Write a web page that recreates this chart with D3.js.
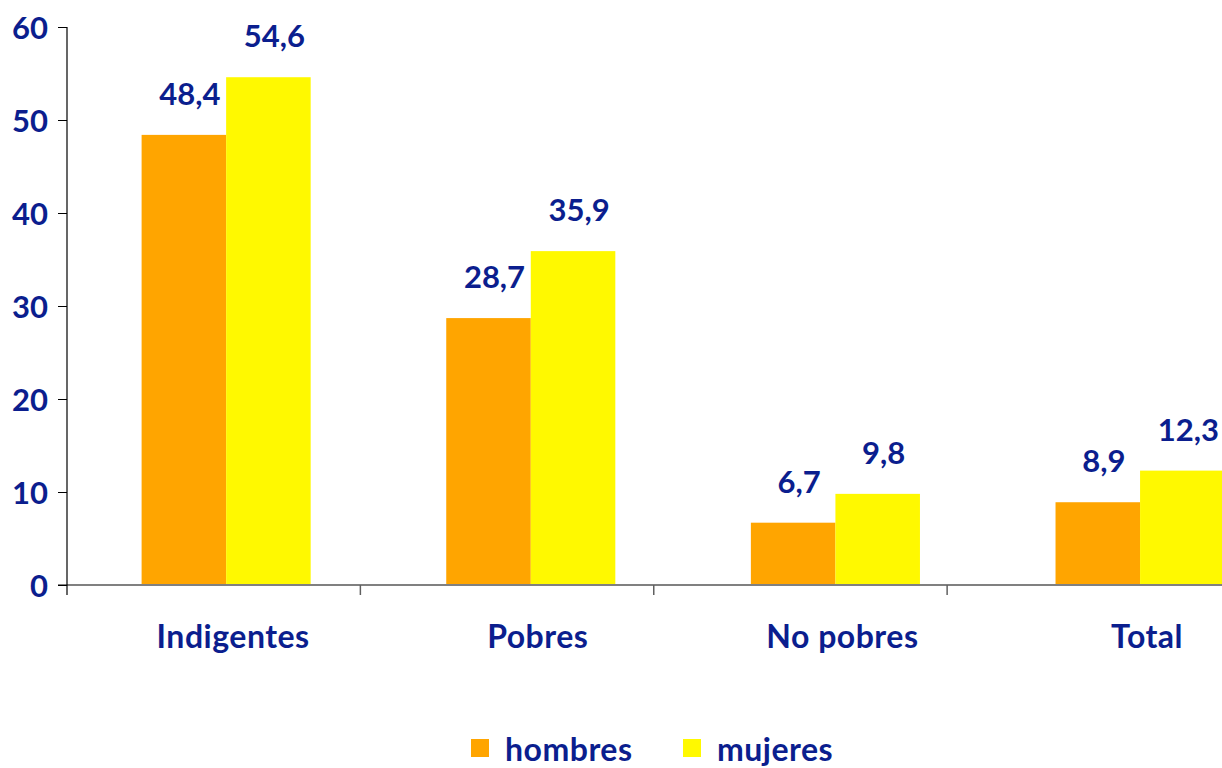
<!DOCTYPE html>
<html>
<head>
<meta charset="utf-8">
<script src="https://cdn.jsdelivr.net/npm/d3@7"></script>
<style>
  body { margin: 0; background: #fff; }
  text { font-family: "Century Gothic", Lato, "DejaVu Sans", sans-serif; font-weight: bold; fill: #0b1e8e; }
</style>
</head>
<body>
<div id="chart"></div>
<script>
// data
const categories = ["Indigentes", "Pobres", "No pobres", "Total"];
const seriesNames = ["hombres", "mujeres"];
const hombres = [48.4, 28.7, 6.7, 8.9];
const mujeres = [54.6, 35.9, 9.8, 12.3];
const yTicks = [0, 10, 20, 30, 40, 50, 60];

const colors = { hombres: "#ffa500", mujeres: "#fff900" };

let width = 1222,
  height = 768;

let svg = d3.select("#chart").append("svg")
  .attr("width", width)
  .attr("height", height);

let y = d3.scaleLinear().domain([0, 60]).range([585, 27]);

// category slots for the axis ticks
let xAxisScale = d3.scaleBand().domain(categories).range([67, 1240.5]);

// bar groups (slightly shifted from the tick slots, as in the original)
let x0 = d3.scaleBand().domain(categories).range([141.6, 1224.6]).paddingInner(0.445).paddingOuter(0);
let x1 = d3.scaleBand().domain(seriesNames).range([0, x0.bandwidth()]);

let rows = categories.map((c, i) => ({ cat: c, hombres: hombres[i], mujeres: mujeres[i] }));

// bars
let groups = svg.selectAll(".group")
  .data(rows)
  .enter().append("g")
  .attr("class", "group")
  .attr("transform", (d) => "translate(" + x0(d.cat) + ",0)");

groups.selectAll("rect")
  .data((d) => seriesNames.map((s) => ({ key: s, value: d[s] })))
  .enter().append("rect")
  .attr("x", (d) => x1(d.key))
  .attr("y", (d) => y(d.value))
  .attr("width", x1.bandwidth())
  .attr("height", (d) => y(0) - y(d.value))
  .attr("fill", (d) => colors[d.key]);

// value labels
groups.selectAll(".val")
  .data((d) => seriesNames.map((s) => ({ key: s, value: d[s] })))
  .enter().append("text")
  .attr("class", "val")
  .attr("x", (d) => x1(d.key) + x1.bandwidth() / 2 + 6)
  .attr("y", (d) => y(d.value) - 30)
  .attr("text-anchor", "middle")
  .attr("font-size", "31px")
  .text((d) => d3.format(".1f")(d.value).replace(".", ","));

// x axis line
svg.append("line")
  .attr("x1", 58).attr("x2", width)
  .attr("y1", y(0)).attr("y2", y(0))
  .attr("stroke", "#808080")
  .attr("stroke-width", 2);

// x ticks at slot boundaries
svg.selectAll(".xtick")
  .data(categories.slice(1))
  .enter().append("line")
  .attr("class", "xtick")
  .attr("x1", (d) => xAxisScale(d)).attr("x2", (d) => xAxisScale(d))
  .attr("y1", y(0)).attr("y2", y(0) + 10)
  .attr("stroke", "#606060")
  .attr("stroke-width", 1.5);

// y axis
let yAxis = d3.axisLeft(y)
  .tickValues(yTicks)
  .tickSize(9)
  .tickPadding(10)
  .tickFormat(d3.format("d"));

let yg = svg.append("g")
  .attr("transform", "translate(67,0)")
  .call(yAxis);

yg.select(".domain").remove();
yg.selectAll(".tick line").attr("stroke", "#000");
yg.selectAll(".tick text")
  .attr("font-size", "31px")
  .attr("dy", "0.36em")
  .style("font-family", null);
yg.attr("font-family", null).attr("font-size", null);

svg.append("line")
  .attr("x1", 67).attr("x2", 67)
  .attr("y1", y(60)).attr("y2", y(0) + 10)
  .attr("stroke", "#000")
  .attr("stroke-width", 1.2);

// category labels
svg.selectAll(".cat")
  .data(categories)
  .enter().append("text")
  .attr("class", "cat")
  .attr("x", (d) => x0(d) + x0.bandwidth() / 2 + 7)
  .attr("y", 648)
  .attr("text-anchor", "middle")
  .attr("font-size", "32px")
  .attr("letter-spacing", "0.5px")
  .text((d) => d);

// legend
let legend = svg.selectAll(".legend")
  .data(seriesNames)
  .enter().append("g")
  .attr("class", "legend")
  .attr("transform", (d, i) => "translate(" + (471 + i * 212) + ",739)");

legend.append("rect")
  .attr("width", 18)
  .attr("height", 18)
  .attr("fill", (d) => colors[d]);

legend.append("text")
  .attr("x", 34)
  .attr("y", 22)
  .attr("font-size", "32px")
  .attr("letter-spacing", "0.5px")
  .text((d) => d);
</script>
</body>
</html>
